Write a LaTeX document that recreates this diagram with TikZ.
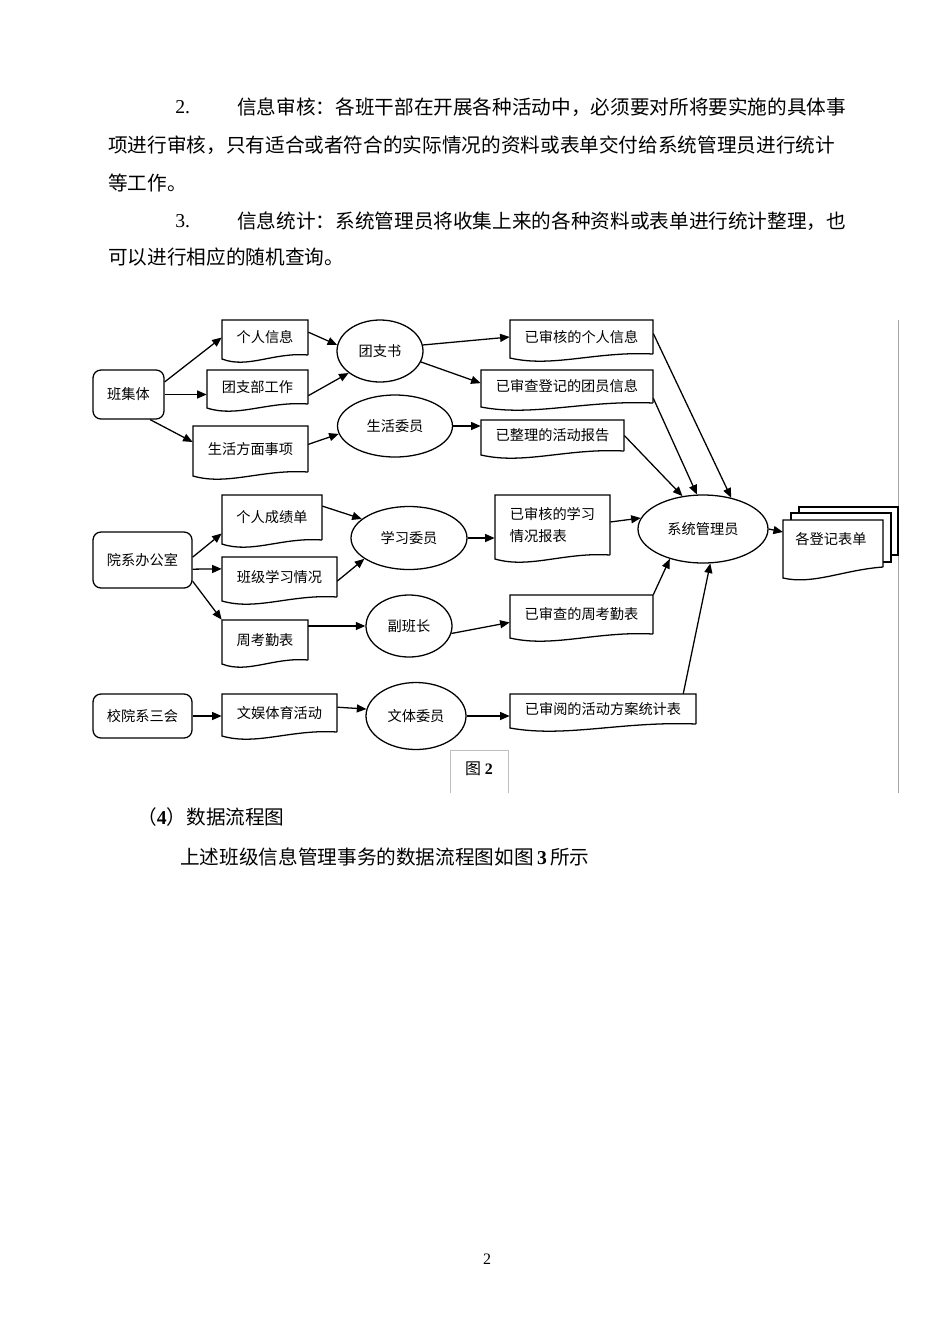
\documentclass[tikz,border=0pt]{standalone}
\usepackage{fontspec}
\setmainfont{Liberation Serif}
\newfontfamily\cjk{Noto Sans CJK SC}
\usetikzlibrary{shapes.geometric,arrows.meta,fit,calc}
\tikzset{
  dtext/.style={font=\cjk\fontsize{8.9pt}{14pt}\selectfont, align=left},
  arr/.style={-{Triangle[length=6pt,width=5pt]}, line width=0.8pt},
  shp/.style={draw, line width=0.8pt},
  ptext/.style={anchor=west, inner sep=0pt, font=\cjk\fontsize{12.3pt}{15pt}\selectfont}
}
\newcommand\docnode[6]{%
  \node[fit={(#2,#3)(#4,#5)}, inner sep=0pt] (#1) {};
  \draw[shp, fill=white] (#4,#5) -- (#4,#3) -- (#2,#3) -- (#2,#5+4)
    .. controls ({#2+0.3*(#4-#2)},{#5+14}) and ({#2+0.6*(#4-#2)},{#5-3}) .. (#4,#5);
  \node[dtext] at (#1.center) {#6};}
\newcommand\ellnode[6]{%
  \node[shp, ellipse, inner sep=0pt, minimum width={#4*0.6263pt}, minimum height={#5*0.6263pt}, dtext] (#1) at (#2,#3) {#6};}
\newcommand\rrnode[6]{%
  \node[shp, rounded corners=5pt, fit={(#2,#3)(#4,#5)}, inner sep=0pt] (#1) {};
  \node[dtext] at (#1.center) {#6};}
\begin{document}
\begin{tikzpicture}[x=0.6263pt, y=-0.6263pt]
\useasboundingbox (0,0) rectangle (950,1344);
% text
\node[ptext] (l1a) at (175,107) {\rmfamily 2.};
\node[ptext] (l1) at (237,107) {信息审核：各班干部在开展各种活动中，必须要对所将要实施的具体事};
\node[ptext] (l2) at (108,145) {项进行审核，只有适合或者符合的实际情况的资料或表单交付给系统管理员进行统计};
\node[ptext] (l3) at (108,183) {等工作。};
\node[ptext] (l4a) at (175,221) {\rmfamily 3.};
\node[ptext] (l4) at (237,221) {信息统计：系统管理员将收集上来的各种资料或表单进行统计整理，也};
\node[ptext] (l5) at (108,257) {可以进行相应的随机查询。};
\node[ptext] (h4) at (137,817) {（{\rmfamily\bfseries 4}）数据流程图};
\node[ptext] (h5) at (180,857) {上述班级信息管理事务的数据流程图如图{\rmfamily\bfseries\,3\,}所示};
\node[font=\rmfamily\fontsize{10pt}{12pt}\selectfont] (pg) at (487,1259) {2};
% frame pieces
\draw[gray!70, line width=0.6pt] (898,320) -- (898,793);
\draw[gray!50, line width=0.6pt] (450,793) -- (450,750) -- (508,750) -- (508,793);
\node[font=\cjk\fontsize{10pt}{12pt}\selectfont] (fig) at (479,769) {图 {\rmfamily\bfseries 2}};
% sources
\rrnode{bjt}{93}{370}{164}{419}{班集体}
\rrnode{yx}{93}{532}{192}{588}{院系办公室}
\rrnode{xy}{93}{694}{192}{738}{校院系三会}
% documents
\docnode{grxx}{222}{320}{308}{355}{个人信息}
\docnode{tzb}{207}{370}{308}{404}{团支部工作}
\docnode{shfm}{193}{426}{308}{472}{生活方面事项}
\docnode{shgr}{510}{320}{653}{354}{已审核的个人信息}
\docnode{scdj}{481}{370}{653}{403}{已审查登记的团员信息}
\docnode{zlhd}{481}{420}{624}{451}{已整理的活动报告}
\docnode{grcj}{222}{495}{322}{540}{个人成绩单}
\docnode{bjxx}{222}{557}{337}{597}{班级学习情况}
\docnode{zkq}{222}{620}{308}{660}{周考勤表}
\docnode{shxx}{495}{495}{610}{555}{已审核的学习\\情况报表}
\docnode{sczk}{510}{595}{653}{634}{已审查的周考勤表}
\docnode{wyty}{222}{694}{337}{732}{文娱体育活动}
\docnode{shyd}{510}{694}{696}{724}{已审阅的活动方案统计表}
% stacked forms
\node[fit={(783,507)(898,575)}, inner sep=0pt] (gdj) {};
\draw[shp, fill=white] (799,507) rectangle (898,555);
\draw[shp, fill=white] (791,513) rectangle (891,562);
\draw[shp, fill=white] (883,567) -- (883,520) -- (783,520) -- (783,578)
  .. controls (813,585) and (843,570) .. (883,567);
\node[dtext] (gdjt) at (831,539) {各登记表单};
% ellipses
\ellnode{tzs}{380}{351}{86}{62}{团支书}
\ellnode{shwy}{395}{426}{115}{62}{生活委员}
\ellnode{xxwy}{409}{538}{116}{63}{学习委员}
\ellnode{fbz}{409}{626}{86}{62}{副班长}
\ellnode{wtwy}{416}{716}{100}{67}{文体委员}
\ellnode{xtgl}{703}{529}{130}{68}{系统管理员}
% arrows
\draw[arr] ($(bjt.north east)!0.25!(bjt.south east)$) -- (grxx.west);
\draw[arr] (bjt.east) -- (bjt.east -| tzb.west);
\draw[arr] ($(bjt.south west)!0.8!(bjt.south east)$) -- ($(shfm.north west)!0.35!(shfm.south west)$);
\draw[arr] ($(grxx.north east)!0.35!(grxx.south east)$) -- (tzs.172);
\draw[arr] ($(tzb.north east)!0.75!(tzb.south east)$) -- (tzs.215);
\draw[arr] ($(shfm.north east)!0.4!(shfm.south east)$) -- (shwy.188);
\draw[arr] (tzs.8) -- (shgr.west);
\draw[arr] (tzs.345) -- ($(scdj.north west)!0.4!(scdj.south west)$);
\draw[arr] (shwy.east) -- (shwy.east -| zlhd.west);
\draw[arr] ($(grcj.north east)!0.25!(grcj.south east)$) -- (xxwy.158);
\draw[arr] ($(bjxx.north east)!0.6!(bjxx.south east)$) -- (xxwy.205);
\draw[arr] (fbz.west -| zkq.east) -- (fbz.west);
\draw[arr] (xxwy.east) -- (xxwy.east -| shxx.west);
\draw[arr] (fbz.350) -- ($(sczk.north west)!0.7!(sczk.south west)$);
\draw[arr] ($(yx.north east)!0.45!(yx.south east)$) -- ($(grcj.north west)!0.85!(grcj.south west)$);
\draw[arr] ($(yx.north east)!0.66!(yx.south east)$) -- ($(bjxx.north west)!0.3!(bjxx.south west)$);
\draw[arr] ($(yx.north east)!0.87!(yx.south east)$) -- (zkq.north west);
\draw[arr] (xy.east) -- (xy.east -| wyty.west);
\draw[arr] ($(wyty.north east)!0.35!(wyty.south east)$) -- (wtwy.172);
\draw[arr] (wtwy.east) -- (wtwy.east -| shyd.west);
\draw[arr] ($(shgr.north east)!0.4!(shgr.south east)$) -- (xtgl.48);
\draw[arr] ($(scdj.north east)!0.85!(scdj.south east)$) -- (xtgl.100);
\draw[arr] (zlhd.east) -- (xtgl.122);
\draw[arr] ($(shxx.north east)!0.45!(shxx.south east)$) -- (xtgl.170);
\draw[arr] (sczk.north east) -- (xtgl.222);
\draw[arr] ($(shyd.north west)!0.93!(shyd.north east)$) -- (xtgl.282);
\draw[arr] (xtgl.east) -- (783,532) coordinate (gdjin);
\end{tikzpicture}
\end{document}
